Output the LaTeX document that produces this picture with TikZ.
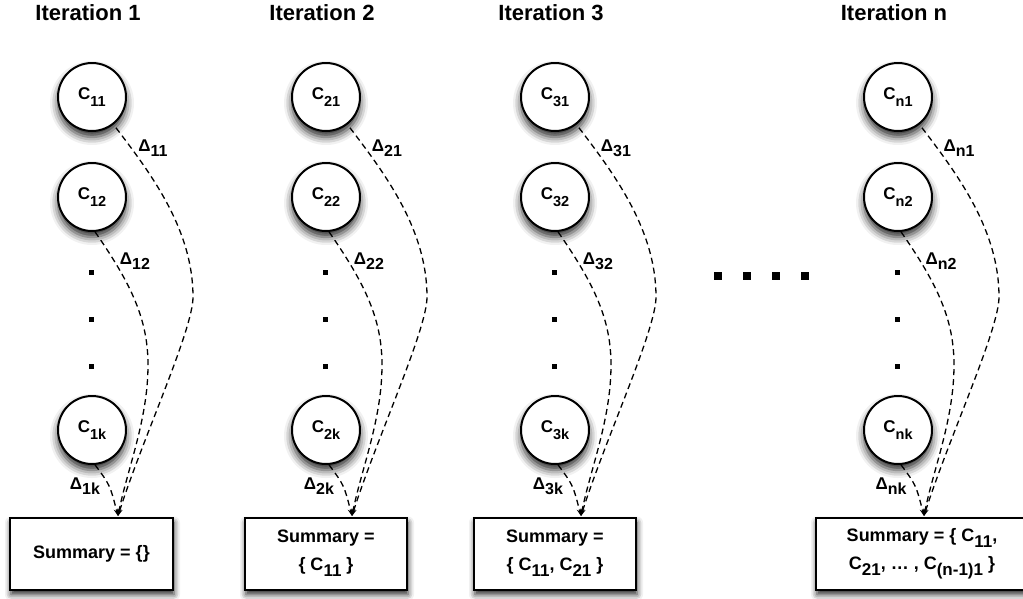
\documentclass[tikz,border=0pt]{standalone}
\usepackage{fontspec}
\setsansfont{Liberation Sans}
\usetikzlibrary{arrows.meta,shadows.blur}

% lowered subscripts (circles, deltas, boxes)
\newcommand{\csub}[1]{\raisebox{-7pt}{\fontsize{14.5}{14.5}\selectfont #1}}
\newcommand{\dsub}[1]{\raisebox{-4.5pt}{\fontsize{16}{16}\selectfont #1}}
\newcommand{\bsub}[1]{\raisebox{-6pt}{\fontsize{17}{17}\selectfont #1}}

\begin{document}
\begin{tikzpicture}[x=1pt,y=-1pt,
    font=\sffamily\bfseries,
    title/.style={anchor=base, font=\sffamily\bfseries\fontsize{22}{22}\selectfont},
    cluster/.style={circle, draw, line width=2pt, fill=white, minimum size=68pt, inner sep=0pt,
        font=\sffamily\bfseries\fontsize{17}{17}\selectfont,
        blur shadow={shadow xshift=0pt, shadow yshift=-6pt, shadow blur radius=8pt, shadow opacity=85}},
    summary/.style={rectangle, draw, line width=2pt, fill=white, minimum width=162pt, minimum height=72pt,
        inner sep=0pt, align=center, font=\sffamily\bfseries\fontsize{18}{28}\selectfont,
        blur shadow={shadow xshift=1pt, shadow yshift=-5pt, shadow blur radius=6pt, shadow opacity=85}},
    delta/.style={font=\sffamily\bfseries\fontsize{17}{17}\selectfont},
    vdot/.style={rectangle, fill=black, minimum size=5pt, inner sep=0pt},
    hdot/.style={rectangle, fill=black, minimum size=8pt, inner sep=0pt},
    update/.style={dashed, dash pattern=on 6pt off 4pt, line width=1.3pt, -{Stealth[length=7pt,width=5pt]}}]
    \useasboundingbox (0,0) rectangle (1023,598);
    % summary boxes
    \node[summary, minimum width=163pt] (sum1) at (91.5,553.5) {Summary = \{\}};
    \node[summary] (sum2) at (326,553.5) {Summary =\\ \{ C\bsub{11} \}};
    \node[summary] (sum3) at (555,553.5) {Summary =\\ \{ C\bsub{11}, C\bsub{21} \}};
    \node[summary, minimum width=212pt] (sumn) at (922,553.5) {Summary = \{ C\bsub{11},\\ C\bsub{21}, \dots\ , C\bsub{(n-1)1} \}};
    % iterations
    \foreach \i/\cx in {1/92, 2/326, 3/555, n/898} {
        \node[title] (t\i) at ({\cx-4},20) {Iteration \i};
        \node[cluster] (c\i1) at (\cx,97) {C\csub{\i1}};
        \node[cluster] (c\i2) at (\cx,197) {C\csub{\i2}};
        \node[cluster] (c\i k) at (\cx,430) {C\csub{\i k}};
        \foreach \y in {272,319,366}
            \node[vdot] at ({\cx-1},\y) {};
        \coordinate (tip\i) at ({\cx+26},516);
        % deltas
        \draw[update, shorten <=4pt] (c\i1.-52) .. controls ({\cx+60},175) and ({\cx+101},230) .. ({\cx+101},297)
            .. controls ({\cx+101},330) and ({\cx+50},440) .. (tip\i);
        \draw[update] (c\i2.-85) .. controls ({\cx+40},285) and ({\cx+56},320) .. ({\cx+56},365)
            .. controls ({\cx+56},420) and ({\cx+35},470) .. (tip\i);
        \draw[update] (c\i k.-85) .. controls ({\cx+18},485) .. (tip\i);
        \node[delta] (d\i1) at ({\cx+61},148) {Δ\dsub{\i1}};
        \node[delta] (d\i2) at ({\cx+43},261) {Δ\dsub{\i2}};
        \node[delta] (d\i k) at ({\cx-7},486) {Δ\dsub{\i k}};
    }
    % skipped iterations
    \foreach \x in {718,747,776,805}
        \node[hdot] at (\x,276) {};
\end{tikzpicture}
\end{document}
